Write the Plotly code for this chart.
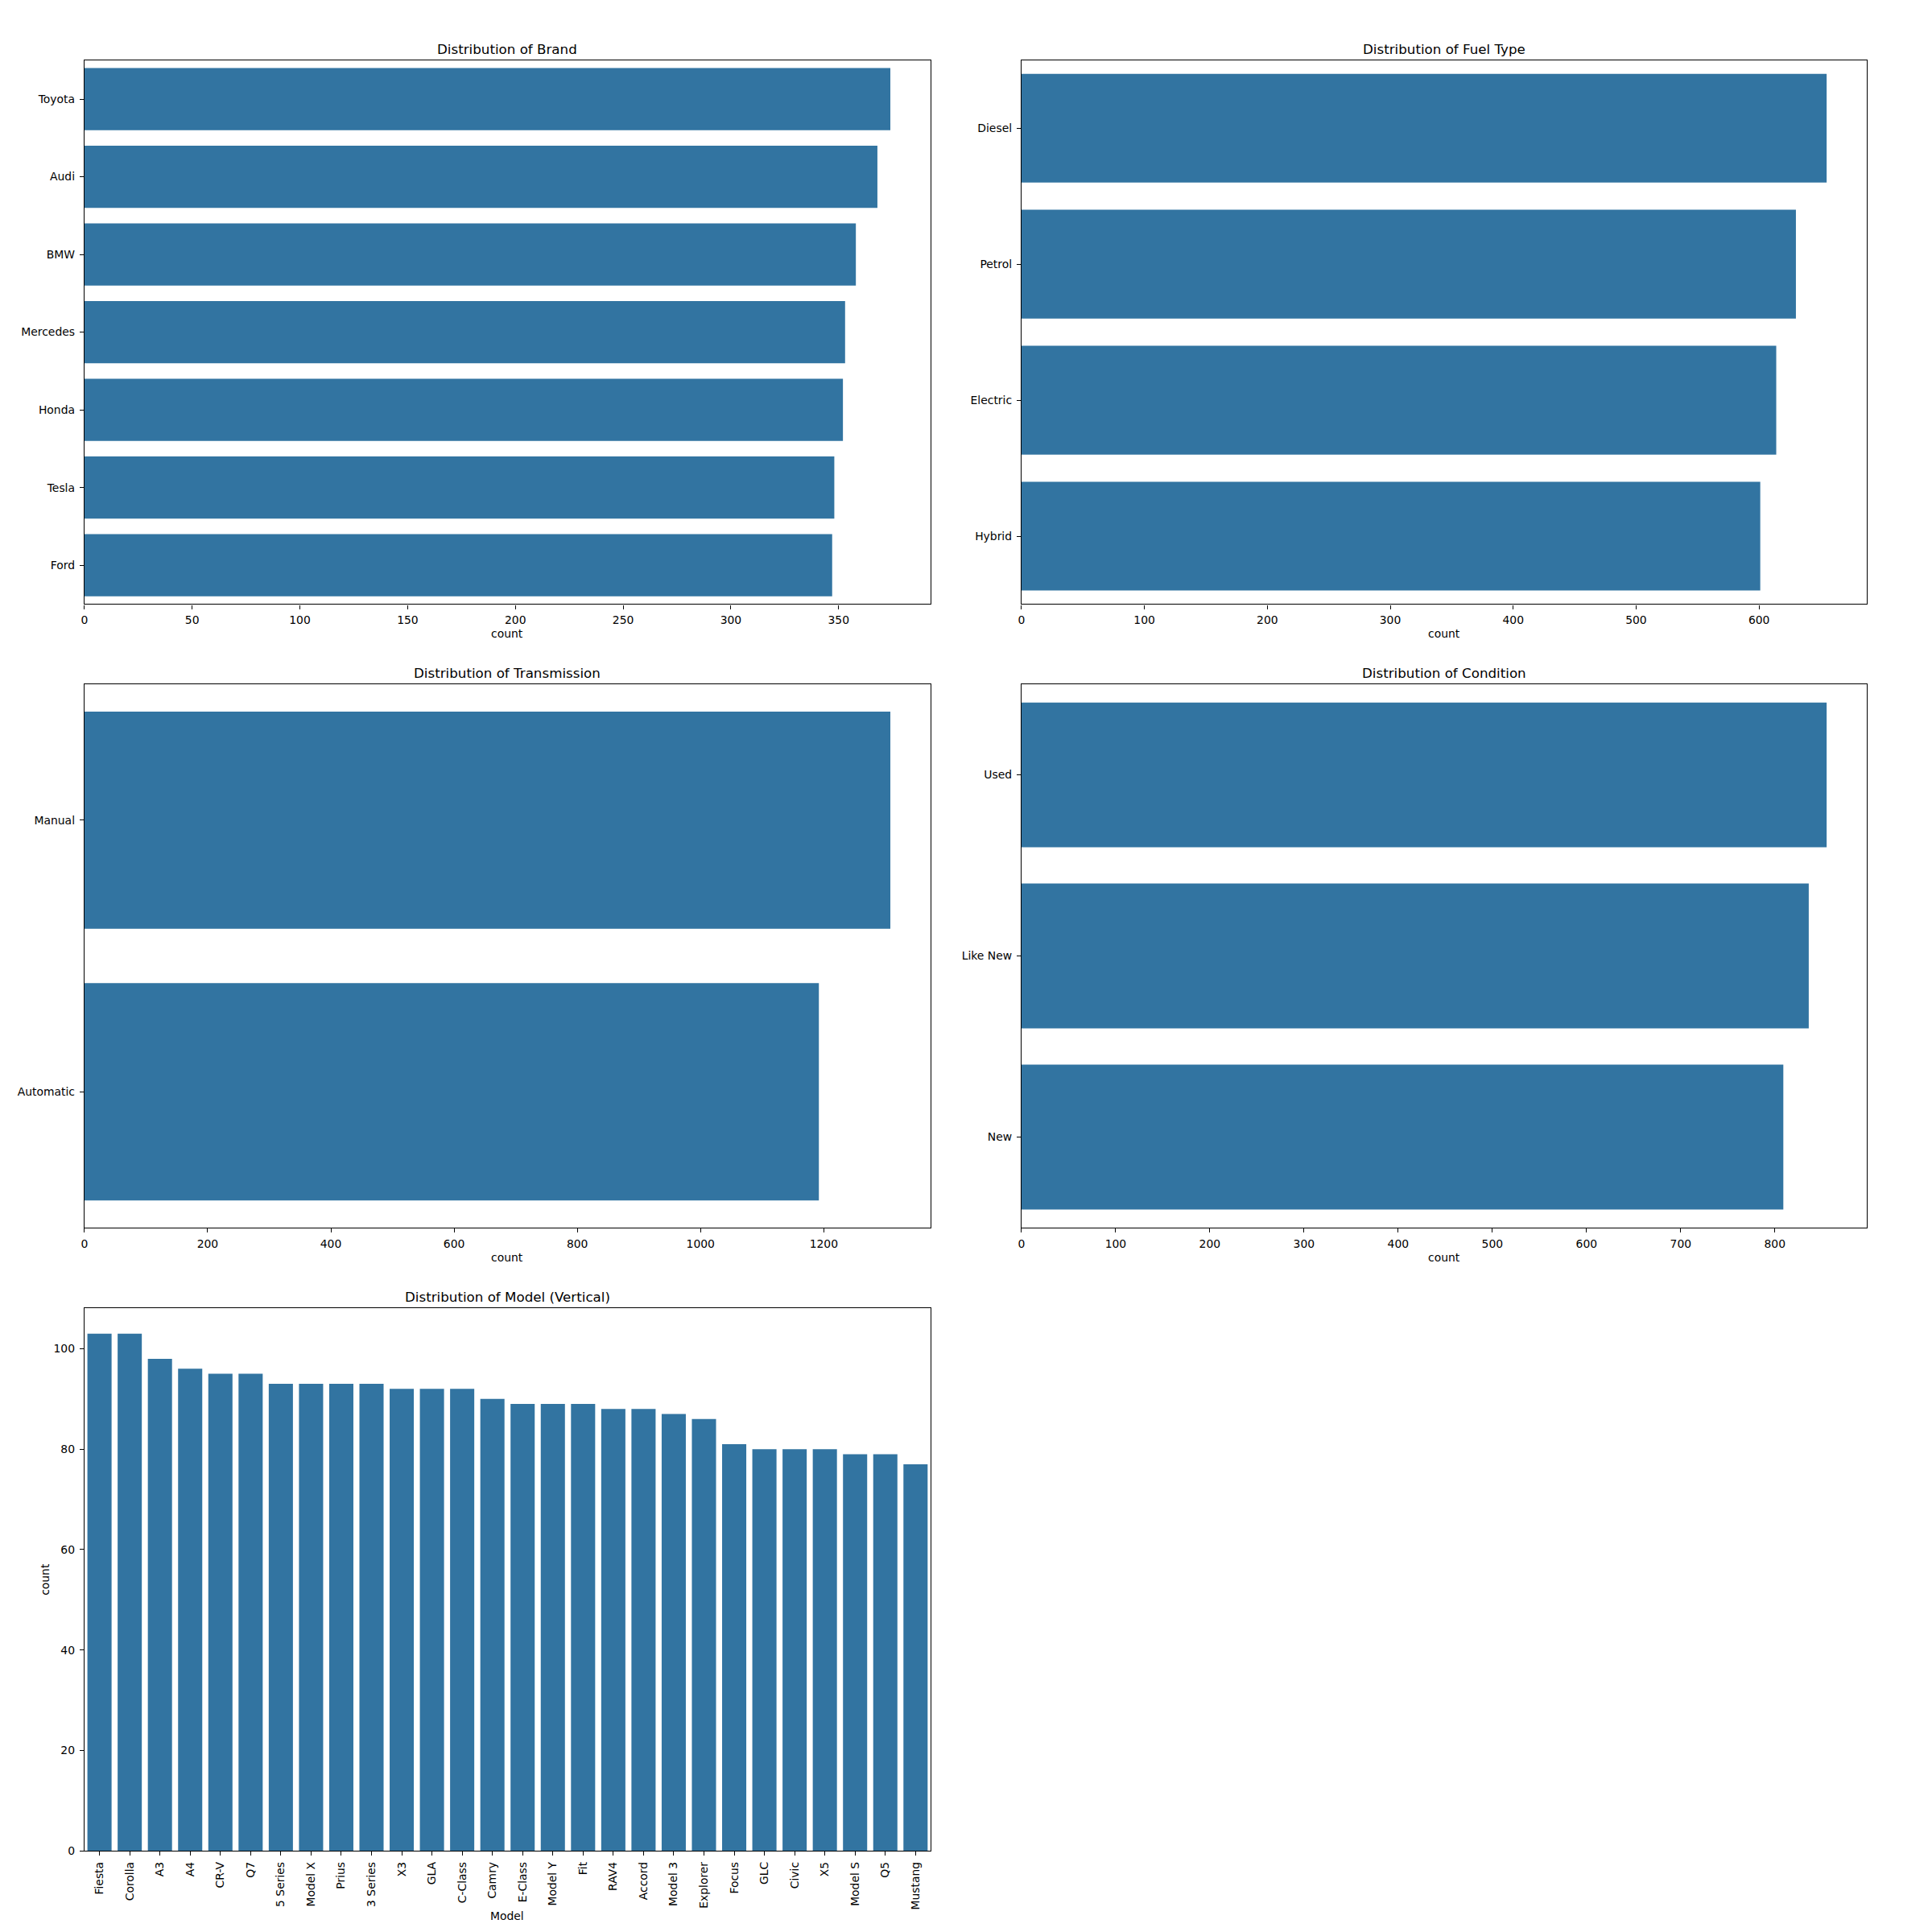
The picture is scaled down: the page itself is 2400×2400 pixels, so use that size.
import plotly.graph_objects as go

# ---------------- data ----------------
brand_labels = ["Toyota", "Audi", "BMW", "Mercedes", "Honda", "Tesla", "Ford"]
brand_counts = [374, 368, 358, 353, 352, 348, 347]

fuel_labels = ["Diesel", "Petrol", "Electric", "Hybrid"]
fuel_counts = [655, 630, 614, 601]

trans_labels = ["Manual", "Automatic"]
trans_counts = [1308, 1192]

cond_labels = ["Used", "Like New", "New"]
cond_counts = [855, 836, 809]

model_labels = ["Fiesta", "Corolla", "A3", "A4", "CR-V", "Q7", "5 Series", "Model X",
                "Prius", "3 Series", "X3", "GLA", "C-Class", "Camry", "E-Class",
                "Model Y", "Fit", "RAV4", "Accord", "Model 3", "Explorer", "Focus",
                "GLC", "Civic", "X5", "Model S", "Q5", "Mustang"]
model_counts = [103, 103, 98, 96, 95, 95, 93, 93, 93, 93, 92, 92, 92, 90, 89,
                89, 89, 88, 88, 87, 86, 81, 80, 80, 80, 79, 79, 77]

brand_ticks = [0, 50, 100, 150, 200, 250, 300, 350]
fuel_ticks = [0, 100, 200, 300, 400, 500, 600]
trans_ticks = [0, 200, 400, 600, 800, 1000, 1200]
cond_ticks = [0, 100, 200, 300, 400, 500, 600, 700, 800]
model_ticks = [0, 20, 40, 60, 80, 100]

# ---------------- style ----------------
W = H = 2400
BAR = "#3274a1"
FONT = "DejaVu Sans"
TICK_SIZE = 13.9
TITLE_SIZE = 16.7

fig = go.Figure()


def xdom(l, r):
    return [l / W, r / W]


def ydom(t, b):
    return [1 - b / H, 1 - t / H]


common = dict(showline=True, linecolor="black", linewidth=1.1, mirror=True,
              ticks="outside", ticklen=5, tickwidth=1.1, tickcolor="black",
              showgrid=False, zeroline=False,
              tickfont=dict(family=FONT, size=TICK_SIZE, color="black"))

COL1 = (101, 1154)
COL2 = (1267, 2319)
ROW1 = (75, 753)
ROW2 = (853, 1530)
ROW3 = (1630, 2307)

hpanels = [
    (1, "Distribution of Brand", brand_labels, brand_counts, brand_ticks, COL1, ROW1),
    (2, "Distribution of Fuel Type", fuel_labels, fuel_counts, fuel_ticks, COL2, ROW1),
    (3, "Distribution of Transmission", trans_labels, trans_counts, trans_ticks, COL1, ROW2),
    (4, "Distribution of Condition", cond_labels, cond_counts, cond_ticks, COL2, ROW2),
]

annotations = []


def add_title(text, col, row):
    annotations.append(dict(text=text, xref="paper", yref="paper",
                            x=(col[0] + col[1]) / 2 / W, y=1 - (row[0] - 14) / H,
                            xanchor="center", yanchor="middle", showarrow=False,
                            font=dict(family=FONT, size=TITLE_SIZE, color="black")))


for idx, title, labels, counts, ticks, col, row in hpanels:
    sfx = "" if idx == 1 else str(idx)
    fig.add_trace(go.Bar(x=counts, y=labels, orientation="h", marker_color=BAR,
                         marker_line_width=0, xaxis="x" + sfx, yaxis="y" + sfx,
                         width=0.8, showlegend=False))
    n = len(labels)
    fig.update_layout(**{
        "xaxis" + sfx: dict(domain=xdom(*col), anchor="y" + sfx,
                            range=[0, max(counts) * 1.05], tickvals=ticks,
                            ticklabelstandoff=2, **common),
        "yaxis" + sfx: dict(domain=ydom(*row), anchor="x" + sfx, type="category",
                            range=[n - 0.5, -0.5], ticklabelstandoff=3, **common),
    })
    add_title(title, col, row)
    annotations.append(dict(text="count", xref="paper", yref="paper",
                            x=(col[0] + col[1]) / 2 / W, y=1 - (row[1] + 37) / H,
                            xanchor="center", yanchor="middle", showarrow=False,
                            font=dict(family=FONT, size=TICK_SIZE, color="black")))

# vertical model chart
fig.add_trace(go.Bar(x=model_labels, y=model_counts, marker_color=BAR,
                     marker_line_width=0, xaxis="x5", yaxis="y5", width=0.8,
                     showlegend=False))
fig.update_layout(
    xaxis5=dict(domain=xdom(*COL1), anchor="y5", type="category",
                range=[-0.5, len(model_labels) - 0.5], tickangle=-90,
                ticklabelstandoff=2, **common),
    yaxis5=dict(domain=ydom(*ROW3), anchor="x5", range=[0, max(model_counts) * 1.05],
                tickvals=model_ticks, ticklabelstandoff=3, **common),
)
add_title("Distribution of Model (Vertical)", COL1, ROW3)
annotations.append(dict(text="Model", xref="paper", yref="paper",
                        x=(COL1[0] + COL1[1]) / 2 / W, y=1 - 2388 / H,
                        xanchor="center", yanchor="middle", showarrow=False,
                        font=dict(family=FONT, size=TICK_SIZE, color="black")))
annotations.append(dict(text="count", xref="paper", yref="paper",
                        x=52 / W, y=1 - (ROW3[0] + ROW3[1]) / 2 / H, textangle=-90,
                        xanchor="center", yanchor="middle", showarrow=False,
                        font=dict(family=FONT, size=TICK_SIZE, color="black")))

fig.update_layout(width=W, height=H, autosize=False,
                  margin=dict(l=0, r=0, t=0, b=0),
                  paper_bgcolor="white", plot_bgcolor="white",
                  bargap=0.2, annotations=annotations,
                  font=dict(family=FONT, color="black"))

fig.write_html("out.html")
